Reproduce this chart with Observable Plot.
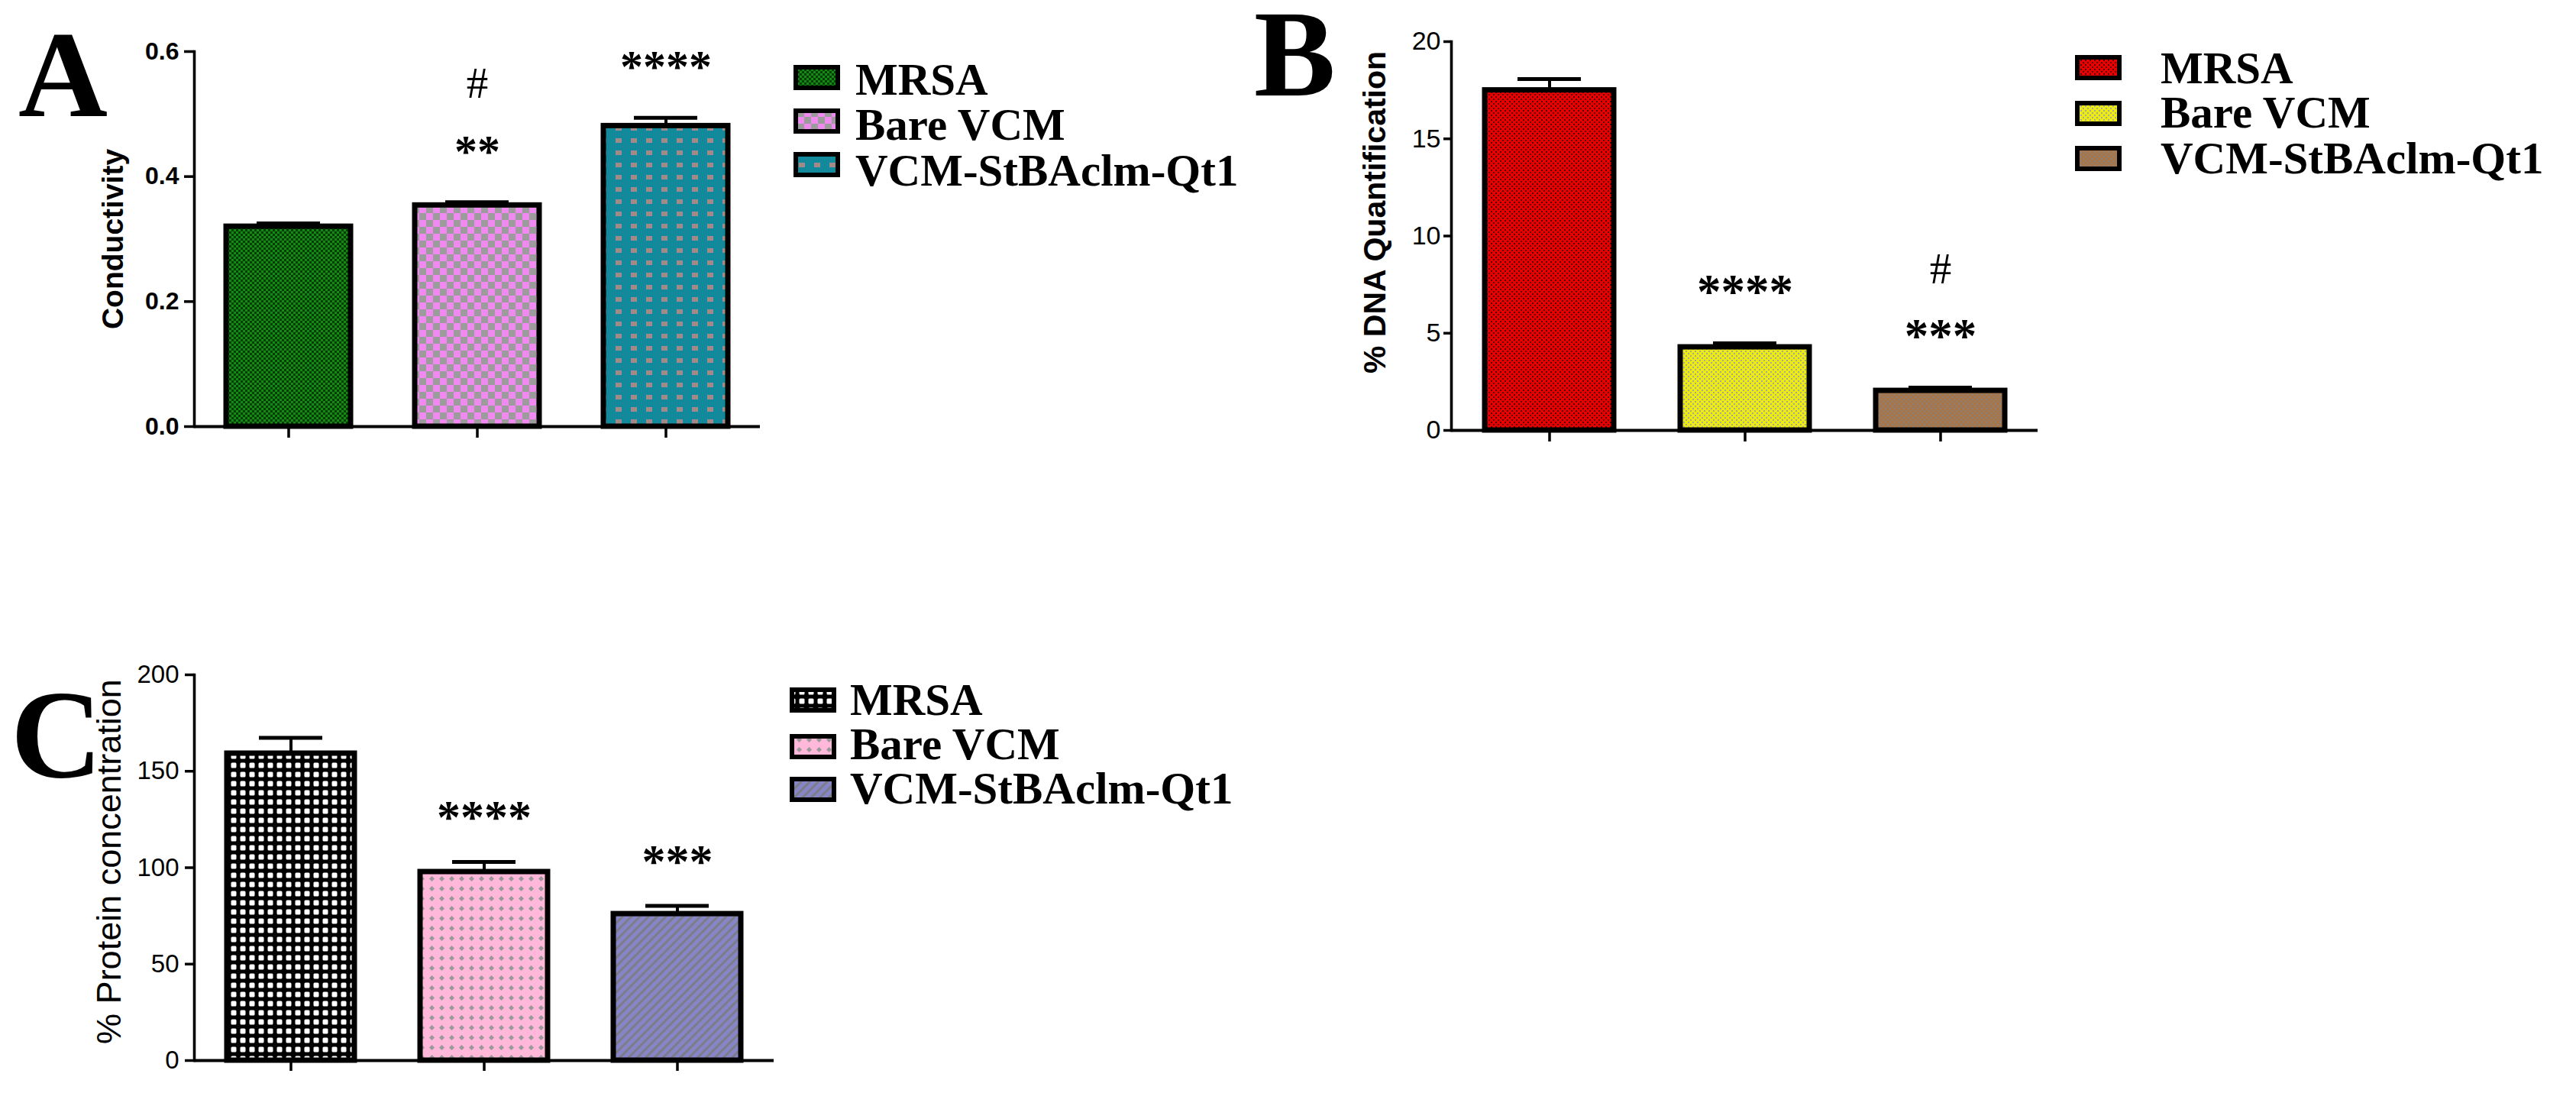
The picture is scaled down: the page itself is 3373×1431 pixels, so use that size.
<!DOCTYPE html>
<html>
<head>
<meta charset="utf-8">
<script src="https://cdn.jsdelivr.net/npm/d3@7"></script>
<script src="https://cdn.jsdelivr.net/npm/@observablehq/plot@0.6"></script>
<style>
html, body { margin: 0; padding: 0; background: #fff; }
#page { position: relative; width: 3373px; height: 1431px; overflow: hidden; background: #fff; }
</style>
</head>
<body>
<div id="page"></div>
<script>
// ---------- data ----------
const groups = ["MRSA", "Bare VCM", "VCM-StBAclm-Qt1"];

const conductivityMean = [0.320, 0.354, 0.481];
const conductivitySem  = [0.005, 0.005, 0.013];
const conductivitySig  = ["", "**", "****"];
const conductivityHash = ["", "#", ""];
const conductivityTicks = [0, 0.2, 0.4, 0.6];

const dnaMean = [17.5, 4.28, 2.04];
const dnaSem  = [0.57, 0.20, 0.16];
const dnaSig  = ["", "****", "***"];
const dnaHash = ["", "", "#"];
const dnaTicks = [0, 5, 10, 15, 20];

const proteinMean = [159.2, 97.8, 76.0];
const proteinSem  = [8.1, 5.2, 4.2];
const proteinSig  = ["", "****", "***"];
const proteinHash = ["", "", ""];
const proteinTicks = [0, 50, 100, 150, 200];

const panelLetters = ["A", "B", "C"];
const yLabels = ["Conductivity", "% DNA Quantification", "% Protein concentration"];

// ---------- page & patterns ----------
const serif = "'Liberation Serif', 'Times New Roman', serif";
const sans = "'Liberation Sans', Arial, sans-serif";
const page = d3.select("#page");

const overlay = page.append("svg")
  .attr("width", 3373).attr("height", 1431)
  .style("position", "absolute").style("left", "0px").style("top", "0px")
  .style("z-index", 2).style("pointer-events", "none");
const defs = overlay.append("defs");

function pattern(id, w, h, bg, draw, transform) {
  const p = defs.append("pattern").attr("id", id)
    .attr("patternUnits", "userSpaceOnUse").attr("width", w).attr("height", h);
  if (transform) p.attr("patternTransform", transform);
  p.append("rect").attr("width", w).attr("height", h).attr("fill", bg);
  draw(p);
}
const sq = (p, x, y, w, h, c, r = 0) => p.append("rect").attr("x", x).attr("y", y).attr("width", w).attr("height", h).attr("rx", r).attr("fill", c);

pattern("pA1", 6, 6, "#053d05", p => { sq(p, 0, 0, 3, 3, "#138a13"); sq(p, 3, 3, 3, 3, "#138a13"); });
pattern("pA2", 18, 18, "#f08af0", p => { sq(p, 0, 0, 9, 9, "#9c9c9c"); sq(p, 9, 9, 9, 9, "#9c9c9c"); });
pattern("pA3", 20, 16, "#138a9c", p => { sq(p, 6, 5, 8, 6, "#a08a8a"); });
pattern("pB1", 6, 6, "#e60000", p => { sq(p, 0, 0, 2, 2, "#5a0000"); sq(p, 3, 3, 2, 2, "#5a0000"); });
pattern("pB2", 6, 6, "#ecec12", p => { sq(p, 0, 0, 2, 2, "#a8a890"); sq(p, 3, 3, 2, 2, "#a8a890"); });
pattern("pB3", 6, 6, "#a5764c", p => { sq(p, 0, 0, 2, 2, "#8c8078"); sq(p, 3, 3, 2, 2, "#8c8078"); });
pattern("pC1", 12, 12, "#000000", p => { sq(p, 2.5, 2.5, 7, 7, "#ffffff", 1.5); });
pattern("pC2", 13, 13, "#ffb7da", p => {
  p.append("polygon").attr("points", "6.5,3 10,6.5 6.5,10 3,6.5").attr("fill", "#999999");
});
pattern("pC3", 8, 8, "#8585c8", p => { sq(p, 0, 0, 3, 8, "#7d7d88"); }, "rotate(45)");

// ---------- chart panels ----------
function drawPanel(cfg) {
  const data = groups.map((g, i) => ({
    group: g, mean: cfg.mean[i], top: cfg.mean[i] + cfg.sem[i], sig: cfg.sig[i], hash: cfg.hash[i]
  }));
  const chart = Plot.plot({
    width: cfg.width, height: cfg.height,
    marginLeft: cfg.ml, marginRight: cfg.mr, marginTop: cfg.mt, marginBottom: cfg.mb,
    style: {background: "transparent", color: "black", fontFamily: sans, overflow: "visible", maxWidth: "none"},
    x: {domain: groups, paddingInner: 0.34, paddingOuter: 0.17},
    y: {domain: cfg.yDomain},
    color: {domain: groups, range: cfg.patterns.map(p => `url(#${p})`)},
    marks: [
      Plot.frame({anchor: "left", strokeWidth: 3.6}),
      Plot.ruleY([0], {strokeWidth: 4}),
      Plot.axisY({ticks: cfg.ticks, tickFormat: cfg.tickFormat, tickSize: cfg.ytick, tickPadding: cfg.ypad,
        fontSize: cfg.tickFont, fontWeight: cfg.tickWeight, strokeWidth: 3.5, label: null}),
      Plot.axisX({tickSize: cfg.xtick, tickFormat: () => "", strokeWidth: 3.5, label: null}),
      Plot.barY(data, {x: "group", y: "mean", fill: "group", stroke: "black", strokeWidth: 7}),
      Plot.ruleX(data, {x: "group", y1: "mean", y2: "top", strokeWidth: 4}),
      Plot.tickY(data, {x: "group", y: "top", strokeWidth: 5, insetLeft: cfg.capInset, insetRight: cfg.capInset}),
      Plot.text(data, {filter: d => d.sig, x: "group", y: "top", text: "sig", dy: cfg.sigDy, fontSize: cfg.sigFont, fontFamily: serif, fontWeight: "bold"}),
      Plot.text(data, {filter: d => d.hash, x: "group", y: "top", text: "hash", dy: -155, fontSize: 57, fontFamily: serif}),
      Plot.text([cfg.label], {text: d => d, frameAnchor: "left", textAnchor: "middle", rotate: -90,
        dx: cfg.labelDx, dy: cfg.labelDy, fontSize: cfg.labelFont, fontWeight: cfg.labelWeight})
    ]
  });
  chart.style.position = "absolute";
  chart.style.left = cfg.left + "px";
  chart.style.top = cfg.top + "px";
  chart.style.zIndex = 1;
  document.getElementById("page").appendChild(chart);
}

drawPanel({
  left: 0, top: 0, width: 1000, height: 620, ml: 254, mr: 5, mt: 67, mb: 62,
  yDomain: [0, 0.6], ticks: conductivityTicks, tickFormat: d3.format(".1f"),
  ytick: 13, ypad: 7, tickFont: 32, tickWeight: "bold", xtick: 15,
  mean: conductivityMean, sem: conductivitySem, sig: conductivitySig, hash: conductivityHash,
  patterns: ["pA1", "pA2", "pA3"], capInset: 40, sigDy: -66, sigFont: 60,
  label: yLabels[0], labelFont: 39, labelWeight: "bold", labelDx: -106, labelDy: 0
});
drawPanel({
  left: 1700, top: 0, width: 1000, height: 640, ml: 200, mr: 32, mt: 54, mb: 77,
  yDomain: [0, 20], ticks: dnaTicks, tickFormat: d => String(d),
  ytick: 10, ypad: 4, tickFont: 34, tickWeight: "normal", xtick: 15,
  mean: dnaMean, sem: dnaSem, sig: dnaSig, hash: dnaHash,
  patterns: ["pB1", "pB2", "pB3"], capInset: 43, sigDy: -67, sigFont: 63,
  label: yLabels[1], labelFont: 41, labelWeight: "bold", labelDx: -100, labelDy: -31
});
drawPanel({
  left: 0, top: 780, width: 1020, height: 651, ml: 254, mr: 7, mt: 103, mb: 43,
  yDomain: [0, 200], ticks: proteinTicks, tickFormat: d => String(d),
  ytick: 12, ypad: 8, tickFont: 33, tickWeight: "normal", xtick: 14,
  mean: proteinMean, sem: proteinSem, sig: proteinSig, hash: proteinHash,
  patterns: ["pC1", "pC2", "pC3"], capInset: 42, sigDy: -58, sigFont: 62,
  label: yLabels[2], labelFont: 45, labelWeight: "normal", labelDx: -111, labelDy: -8
});

// ---------- panel letters ----------
const letterPos = [{x: 24, y: 152, s: 162}, {x: 1642, y: 125, s: 160}, {x: 14, y: 1017, s: 166}];
panelLetters.forEach((L, i) => {
  overlay.append("text").attr("x", letterPos[i].x).attr("y", letterPos[i].y)
    .attr("font-family", serif).attr("font-weight", "bold").attr("font-size", letterPos[i].s)
    .attr("fill", "black").text(L);
});

// ---------- legends ----------
const legends = [
  {sx: 1039, tops: [85, 142, 199], tx: 1120, bases: [124, 183, 243], pats: ["pA1", "pA2", "pA3"]},
  {sx: 2717, tops: [72, 132, 191], tx: 2829, bases: [109, 167, 227], pats: ["pB1", "pB2", "pB3"]},
  {sx: 1034, tops: [900, 961, 1017], tx: 1113, bases: [936, 994, 1052], pats: ["pC1", "pC2", "pC3"]}
];
legends.forEach(lg => {
  groups.forEach((g, i) => {
    overlay.append("rect").attr("x", lg.sx + 3).attr("y", lg.tops[i] + 3)
      .attr("width", 55).attr("height", 27)
      .attr("fill", `url(#${lg.pats[i]})`).attr("stroke", "black").attr("stroke-width", 6);
    overlay.append("text").attr("x", lg.tx).attr("y", lg.bases[i])
      .attr("font-family", serif).attr("font-weight", "bold").attr("font-size", 59)
      .attr("fill", "black").text(g);
  });
});
</script>
</body>
</html>
